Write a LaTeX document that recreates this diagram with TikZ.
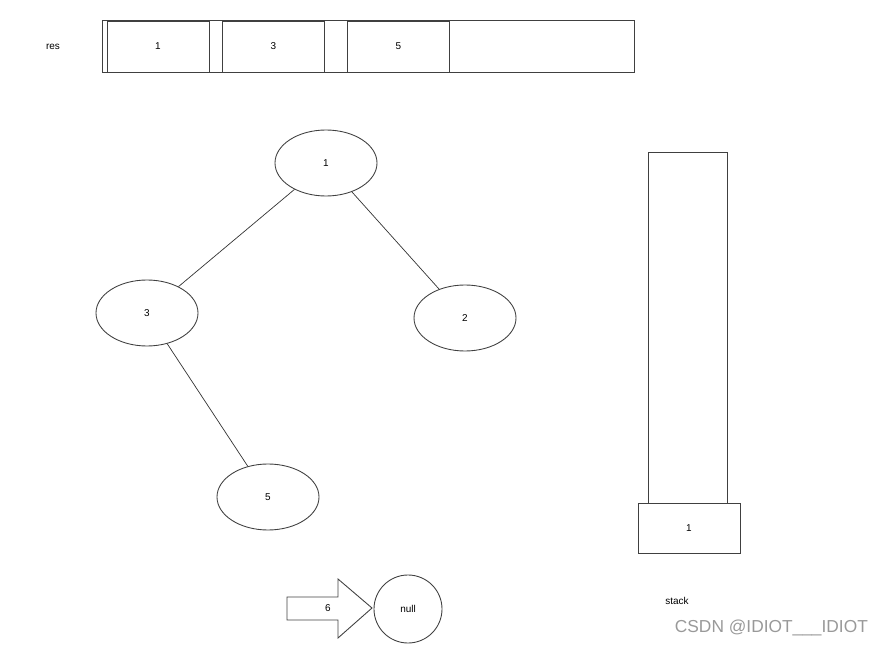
\documentclass[tikz,border=0pt]{standalone}
\usepackage{fontspec}
\setmainfont{Liberation Sans}
\usetikzlibrary{shapes.geometric}
\tikzset{
    shape line/.style={draw=black!75, line width=0.75pt},
    cellbox/.style={shape line, rectangle, minimum width=3.06cm, minimum height=1.53cm, inner sep=0pt},
    treenode/.style={shape line, ellipse, minimum width=3.06cm, minimum height=1.98cm, inner sep=0pt},
    edge line/.style={draw=black!80, line width=0.6pt}
}
\begin{document}
\begin{tikzpicture}[x=0.03cm, y=-0.03cm, font=\fontsize{8.5}{10}\selectfont]
    \useasboundingbox (0,0) rectangle (885,646);
    \node (reslabel) at (53,47) {res};
    \draw[shape line] (102,20) rectangle (634,72);
    \foreach \x/\v in {158/1, 273.5/3, 398.5/5}
        \node[cellbox] (cell\v) at (\x,46.5) {\v};
    \node[treenode] (n1) at (326,163) {1};
    \node[treenode] (n3) at (147,313) {3};
    \node[treenode] (n2) at (465,318) {2};
    \node[treenode] (n5) at (268,497) {5};
    \draw[edge line] (n1) -- (n3);
    \draw[edge line] (n1) -- (n2);
    \draw[edge line] (n3) -- (n5);
    \draw[shape line] (648,152) rectangle (727,503);
    \node[cellbox, minimum height=1.5cm] (stacktop) at (689,528) {1};
    \node (stacklabel) at (677,601) {stack};
    \draw[shape line] (287,597) -- (338,597) -- (338,579) -- (372,608)
        -- (338,638) -- (338,620) -- (287,620) -- cycle;
    \node (six) at (328,608) {6};
    \node[shape line, circle, minimum size=2.04cm, inner sep=0pt] (null) at (408,609) {null};
    \node[anchor=east, text=black!40, font=\fontsize{14.8}{16}\selectfont] (mark) at (872,628) {CSDN @IDIOT\_\_\_IDIOT};
\end{tikzpicture}
\end{document}
